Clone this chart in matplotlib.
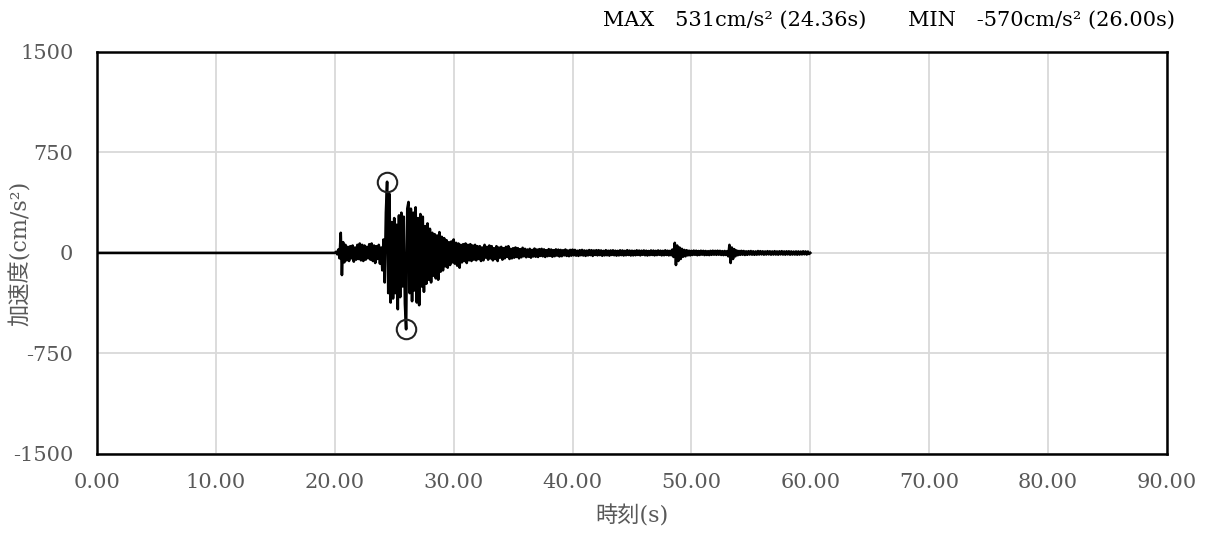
import numpy as np
import matplotlib
matplotlib.use("Agg")
import matplotlib.pyplot as plt

plt.rcParams['font.family'] = ['DejaVu Serif', 'Noto Sans CJK JP']
plt.rcParams['axes.unicode_minus'] = False

# 地震前 (静止)
pre_t = [0.0]
pre_acc = [0.0]

# 主要動 20.0〜32.0s (0.1s 刻み)
strong_acc = [
    0, 8, -10, 25, -40, 150, -165, 80, -70, 60,            # 20
    -55, 45, -60, 50, -40, 55, -65, 40, -50, 60,           # 21
    -45, 70, -55, 60, -60, 55, -50, 45, -40, 65,           # 22
    -50, 70, -60, 55, -75, 50, -45, 60, -80, 40,           # 23
    -130, 100, -220, 300, 531, -300, 440, -370, 230, -340,   # 24
    260, -300, 210, -420, 280, -330, 300, -250, 270, -380,  # 25
    -570, 330, 380, -300, 330, -360, 300, -280, 340, -370,  # 26
    260, -390, 290, -250, 270, -290, 200, -230, 220, -200,  # 27
    180, -220, 150, -170, 140, -190, 130, -200, 155, -140,  # 28
    120, -130, 110, -100, 95, -110, 80, -90, 85, -70,       # 29
    100, -80, 75, -95, 70, -110, 60, -70, 65, -60,          # 30
    70, -75, 60, -55, 65, -60, 55, -50, 60, -55,            # 31
    50,                                                    # 32.0
]
strong_t = np.round(20.0 + 0.1 * np.arange(len(strong_acc)), 2)

# 後続動 32.1〜60.0s (0.1s 刻み)
tail_acc = [
    -45, 50, -60, 40, -55, 60, -35, 45, -50, 55,   # 32.1-33.0
    -40, 50, -55, 35, -45, 50, -60, 40, -35, 45,   # 33
    -50, 35, -40, 45, -30, 50, -45, 30, -40, 35,   # 34
    -35, 40, -30, 35, -40, 28, -32, 38, -25, 30,   # 35
    -32, 25, -28, 30, -35, 22, -26, 32, -28, 25,   # 36
    -30, 28, -22, 30, -25, 26, -30, 20, -24, 28,   # 37
    -22, 25, -28, 20, -24, 26, -20, 24, -26, 22,   # 38
    -24, 20, -18, 25, -22, 18, -24, 22, -20, 24,   # 39
    -18, 22, -20, 16, -22, 20, -17, 22, -19, 18,   # 40
    -22, 17, -18, 21, -16, 20, -22, 18, -15, 20,   # 41
    -18, 20, -16, 18, -21, 15, -18, 20, -17, 16,   # 42
    -20, 18, -15, 19, -17, 16, -20, 15, -18, 19,   # 43
    -16, 18, -19, 15, -17, 20, -15, 17, -19, 16,   # 44
    -18, 15, -17, 19, -15, 17, -18, 16, -14, 18,   # 45
    -17, 16, -19, 14, -16, 18, -15, 17, -18, 15,   # 46
    -16, 18, -14, 16, -18, 15, -17, 19, -15, 16,   # 47
    -18, 15, -17, 25, -30, 75, -90, 55, -60, 40,   # 48
    -45, 30, -28, 22, -25, 20, -18, 16, -18, 15,   # 49
    -15, 17, -14, 16, -17, 14, -15, 16, -13, 15,   # 50
    -16, 14, -15, 13, -16, 15, -14, 16, -13, 15,   # 51
    -14, 16, -13, 15, -15, 13, -16, 14, -15, 13,   # 52
    -25, 60, -75, 40, -45, 28, -25, 18, -17, 14,   # 53
    -14, 15, -13, 14, -15, 12, -14, 13, -12, 14,   # 54
    -13, 12, -14, 11, -13, 14, -12, 13, -11, 12,   # 55
    -13, 11, -12, 13, -11, 12, -13, 11, -12, 13,   # 56
    -12, 11, -13, 12, -11, 13, -12, 11, -13, 12,   # 57
    -11, 12, -13, 11, -12, 10, -12, 11, -13, 11,   # 58
    -12, 10, -11, 12, -10, 11, -12, 10, -8, 0,     # 59
]
tail_t = np.round(32.1 + 0.1 * np.arange(len(tail_acc)), 2)

# 最大・最小
peak_t = [24.36, 26.00]
peak_acc = [531, -570]

t = np.concatenate([pre_t, strong_t, tail_t])
acc = np.concatenate([pre_acc, strong_acc, tail_acc])

fig = plt.figure(figsize=(12.13, 5.41), dpi=100)
ax = fig.add_axes([0.080, 0.161, 0.882, 0.743])

ax.plot(t, acc, color='black', lw=1.9, zorder=3)
ax.plot(peak_t, peak_acc, 'o', ms=14, mfc='none', mec='#222222', mew=1.5, zorder=4)

ax.set_xlim(0, 90)
ax.set_ylim(-1500, 1500)
ax.set_xticks(np.arange(0, 91, 10))
ax.set_xticklabels([f'{v:.2f}' for v in np.arange(0, 91, 10)])
ax.set_yticks([-1500, -750, 0, 750, 1500])
ax.grid(True, color='#d9d9d9', lw=1.3)
ax.set_axisbelow(True)
for s in ax.spines.values():
    s.set_linewidth(1.8)
    s.set_color('black')
ax.tick_params(length=0, labelsize=15, labelcolor='#595959')
ax.tick_params(axis='x', pad=14)
ax.tick_params(axis='y', pad=17)

ax.set_xlabel('時刻(s)', fontsize=16, color='#595959', labelpad=9)
ax.set_ylabel('加速度(cm/s²)', fontsize=16, color='#595959')
ax.yaxis.set_label_coords(-0.061, 0.5)

fig.text(0.969, 0.962, 'MAX\u3000531cm/s² (24.36s)\u3000\u3000MIN\u3000-570cm/s² (26.00s)',
         ha='right', va='center', fontsize=15, color='black')

fig.savefig('out.png', dpi=100)
